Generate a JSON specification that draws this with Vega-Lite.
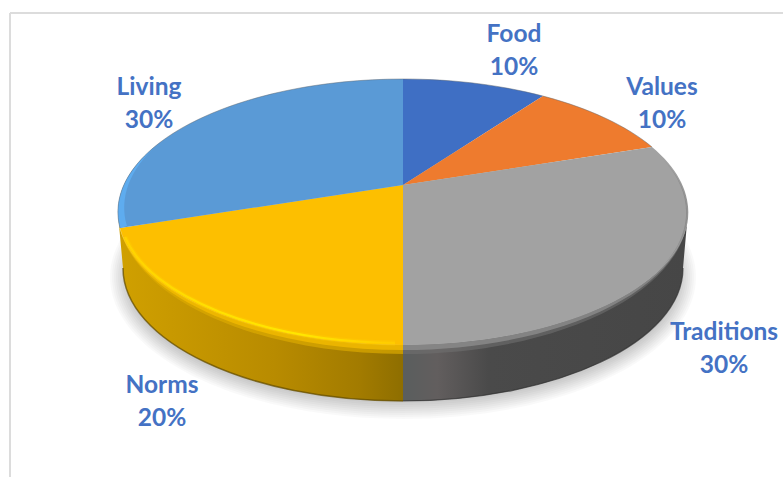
{
  "$schema": "https://vega.github.io/schema/vega-lite/v6.json",
  "width": 783,
  "height": 477,
  "padding": 0,
  "autosize": {"type": "none"},
  "background": "white",
  "view": {"stroke": null},
  "data": {"values": [
    {"label": "Food", "share": 0.1},
    {"label": "Values", "share": 0.1},
    {"label": "Traditions", "share": 0.3},
    {"label": "Norms", "share": 0.2},
    {"label": "Living", "share": 0.3}
  ]},
  "resolve": {"scale": {"shape": "independent", "color": "independent"}},
  "layer": [
    {
      "data": {"values": [{"edge": "top"}]},
      "mark": {"type": "rule", "color": "#dcdcdc", "strokeWidth": 2},
      "encoding": {
        "x": {"datum": -1.3789, "type": "quantitative", "axis": null, "scale": {"domain": [-1.41404, 1.33333], "nice": false, "zero": false}},
        "x2": {"datum": 1.33333},
        "y": {"datum": 1.2932, "type": "quantitative", "axis": null, "scale": {"domain": [-2.19549, 1.39098], "nice": false, "zero": false}}
      }
    },
    {
      "data": {"values": [{"edge": "left"}]},
      "mark": {"type": "rule", "color": "#dcdcdc", "strokeWidth": 2},
      "encoding": {
        "x": {"datum": -1.3789, "type": "quantitative", "axis": null, "scale": {"domain": [-1.41404, 1.33333], "nice": false, "zero": false}},
        "y": {"datum": 1.2932, "type": "quantitative", "axis": null, "scale": {"domain": [-2.19549, 1.39098], "nice": false, "zero": false}},
        "y2": {"datum": -2.19549}
      }
    },
    {
      "data": {"values": [{"ring": "a"}, {"ring": "b"}, {"ring": "c"}, {"ring": "d"}, {"ring": "e"}, {"ring": "f"}, {"ring": "g"}, {"ring": "h"}, {"ring": "i"}]},
      "mark": {"type": "point", "filled": true, "fill": "#000000", "opacity": 0.024, "size": 4, "stroke": null},
      "encoding": {
        "x": {"datum": 0, "type": "quantitative", "axis": null, "scale": {"domain": [-1.41404, 1.33333], "nice": false, "zero": false}},
        "y": {"datum": 0, "type": "quantitative", "axis": null, "scale": {"domain": [-2.19549, 1.39098], "nice": false, "zero": false}},
        "shape": {
          "field": "ring",
          "type": "nominal",
          "legend": null,
          "scale": {
            "domain": ["a", "b", "c", "d", "e", "f", "g", "h", "i"],
            "range": [
              "M-293,92A293,142 0 1 0 293,92A293,142 0 1 0 -293,92Z",
              "M-291,92A291,140 0 1 0 291,92A291,140 0 1 0 -291,92Z",
              "M-289,92A289,138 0 1 0 289,92A289,138 0 1 0 -289,92Z",
              "M-287,92A287,136 0 1 0 287,92A287,136 0 1 0 -287,92Z",
              "M-285,92A285,134 0 1 0 285,92A285,134 0 1 0 -285,92Z",
              "M-283,92A283,132 0 1 0 283,92A283,132 0 1 0 -283,92Z",
              "M-281,92A281,130 0 1 0 281,92A281,130 0 1 0 -281,92Z",
              "M-279,92A279,128 0 1 0 279,92A279,128 0 1 0 -279,92Z",
              "M-277,92A277,126 0 1 0 277,92A277,126 0 1 0 -277,92Z"
            ]
          }
        }
      }
    },
    {
      "encoding": {
        "x": {"datum": 0, "type": "quantitative", "axis": null, "scale": {"domain": [-1.41404, 1.33333], "nice": false, "zero": false}},
        "y": {"datum": 0, "type": "quantitative", "axis": null, "scale": {"domain": [-2.19549, 1.39098], "nice": false, "zero": false}}
      },
      "layer": [
        {
          "transform": [{"filter": "datum.label === 'Norms'"}],
          "mark": {
            "type": "point", "filled": true, "opacity": 1, "size": 4, "stroke": null,
            "shape": "M-284,40L-280,83A280,133 0 0 0 0,216L0,160A285,133 0 0 1 -284,40Z",
            "fill": {"gradient": "linear", "x1": 0, "x2": 1, "y1": 0, "y2": 0, "stops": [
              {"offset": 0, "color": "#d0a000"},
              {"offset": 0.55, "color": "#b88b00"},
              {"offset": 0.85, "color": "#a27b00"},
              {"offset": 1, "color": "#8e6e00"}
            ]}
          }
        },
        {
          "transform": [{"filter": "datum.label === 'Traditions'"}],
          "mark": {
            "type": "point", "filled": true, "opacity": 1, "size": 4, "stroke": null,
            "shape": "M285,27L280,83A280,133 0 0 1 0,216L0,160A285,133 0 0 0 285,27Z",
            "fill": {"gradient": "linear", "x1": 0, "x2": 1, "y1": 0, "y2": 0, "stops": [
              {"offset": 0, "color": "#5a5e5e"},
              {"offset": 0.12, "color": "#625e5e"},
              {"offset": 0.3, "color": "#4a4a4a"},
              {"offset": 1, "color": "#464646"}
            ]}
          }
        },
        {
          "transform": [{"filter": "datum.label === 'Norms'"}],
          "mark": {"type": "point", "filled": false, "opacity": 1, "size": 4, "stroke": "#604a00", "strokeWidth": 1.5, "strokeOpacity": 0.7, "shape": "M-280,83A280,133 0 0 0 0,216"}
        },
        {
          "transform": [{"filter": "datum.label === 'Traditions'"}],
          "mark": {"type": "point", "filled": false, "opacity": 1, "size": 4, "stroke": "#303030", "strokeWidth": 1.2, "strokeOpacity": 0.7, "shape": "M280,83A280,133 0 0 1 0,216"}
        },
        {
          "transform": [{"filter": "datum.label === 'Norms'"}],
          "mark": {"type": "point", "filled": true, "opacity": 0.7, "size": 4, "stroke": null, "fill": "#dcaa00", "shape": "M0,169A285,142 0 0 1 -285,27A285,133 0 0 0 0,160Z"}
        },
        {
          "transform": [{"filter": "datum.label === 'Norms'"}],
          "mark": {"type": "point", "filled": true, "opacity": 0.8, "size": 4, "stroke": null, "fill": "#f2ba00", "shape": "M0,165A285,138 0 0 1 -285,27A285,133 0 0 0 0,160Z"}
        },
        {
          "transform": [{"filter": "datum.label === 'Traditions'"}],
          "mark": {"type": "point", "filled": true, "opacity": 0.6, "size": 4, "stroke": null, "fill": "#707070", "shape": "M285,27A285,142 0 0 1 0,169L0,160A285,133 0 0 0 285,27Z"}
        },
        {
          "transform": [{"filter": "datum.label === 'Traditions'"}],
          "mark": {"type": "point", "filled": true, "opacity": 0.8, "size": 4, "stroke": null, "fill": "#8c8c8c", "shape": "M285,27A285,138 0 0 1 0,165L0,160A285,133 0 0 0 285,27Z"}
        },
        {
          "mark": {"type": "point", "filled": true, "opacity": 1, "size": 4, "stroke": null},
          "encoding": {
            "color": {
              "field": "label",
              "type": "nominal",
              "legend": null,
              "scale": {"domain": ["Food", "Values", "Traditions", "Norms", "Living"], "range": ["#3f6fc4", "#ee7b2e", "#a2a2a2", "#fdbf00", "#5a9ad6"]}
            },
            "shape": {
              "field": "label",
              "type": "nominal",
              "legend": null,
              "scale": {
                "domain": ["Food", "Values", "Traditions", "Norms", "Living"],
                "range": [
                  "M0,0L0,-106A285,133 0 0 1 140,-89Z",
                  "M0,0L140,-89A285,133 0 0 1 249,-38Z",
                  "M0,0L249,-38A285,133 0 0 1 0,160Z",
                  "M0,0L0,160A285,133 0 0 1 -283,43Z",
                  "M0,0L-283,43A285,133 0 0 1 0,-106Z"
                ]
              }
            }
          }
        },
        {
          "transform": [{"filter": "datum.label === 'Traditions'"}],
          "mark": {"type": "point", "filled": true, "opacity": 0.3, "size": 4, "stroke": null, "fill": "#5a5a5a", "shape": "M260,-26A285,133 0 0 1 255,86A275,133 0 0 0 260,-26Z"}
        },
        {
          "transform": [{"filter": "datum.label === 'Traditions'"}],
          "mark": {"type": "point", "filled": true, "opacity": 0.5, "size": 4, "stroke": null, "fill": "#404040", "shape": "M272,-12A285,133 0 0 1 268,72A280,133 0 0 0 272,-12Z"}
        },
        {
          "transform": [{"filter": "datum.label === 'Living'"}],
          "mark": {"type": "point", "filled": true, "opacity": 0.8, "size": 4, "stroke": null, "fill": "#5fb0f5", "shape": "M-283,43A285,133 0 0 1 -245,-41A278,133 0 0 0 -276,41Z"}
        },
        {
          "transform": [{"filter": "datum.label === 'Food'"}],
          "mark": {"type": "point", "filled": false, "opacity": 1, "size": 4, "stroke": "#5f6870", "strokeWidth": 0.8, "strokeOpacity": 0.6, "shape": "M-283,43A285,133 0 0 1 0,-106A285,133 0 0 1 249,-38"}
        },
        {
          "transform": [{"filter": "datum.label === 'Norms'"}],
          "mark": {"type": "point", "filled": false, "opacity": 1, "size": 4, "strokeWidth": 5, "strokeOpacity": 0.35, "shape": "M-8,158A283,131 0 0 1 -278,52", "stroke": "#ffd000"}
        },
        {
          "transform": [{"filter": "datum.label === 'Norms'"}],
          "mark": {"type": "point", "filled": false, "opacity": 1, "size": 4, "strokeWidth": 2.2, "strokeOpacity": 0.9, "shape": "M-8,158A283,131 0 0 1 -278,52",
            "stroke": {"gradient": "linear", "x1": 0, "x2": 1, "y1": 0, "y2": 0, "stops": [
              {"offset": 0, "color": "#ffd400"},
              {"offset": 0.35, "color": "#ffe400"},
              {"offset": 0.65, "color": "#ffea00"},
              {"offset": 1, "color": "#ffcc00"}
            ]}}
        }
      ]
    },
    {
      "transform": [{"filter": "datum.label === 'Food'"}],
      "encoding": {
        "x": {"datum": 0.3895, "type": "quantitative", "axis": null, "scale": {"domain": [-1.41404, 1.33333], "nice": false, "zero": false}},
        "y": {"datum": 1.0113, "type": "quantitative", "axis": null, "scale": {"domain": [-2.19549, 1.39098], "nice": false, "zero": false}}
      },
      "layer": [
        {"mark": {"type": "text", "font": "Lato", "fontWeight": "bold", "fontSize": 24.5, "color": "#4472c4", "dy": -15.5}, "encoding": {"text": {"field": "label"}}},
        {"mark": {"type": "text", "font": "Lato", "fontWeight": "bold", "fontSize": 24.5, "color": "#4472c4", "dy": 17.5}, "encoding": {"text": {"field": "share", "type": "quantitative", "format": ".0%"}}}
      ]
    },
    {
      "transform": [{"filter": "datum.label === 'Values'"}],
      "encoding": {
        "x": {"datum": 0.9088, "type": "quantitative", "axis": null, "scale": {"domain": [-1.41404, 1.33333], "nice": false, "zero": false}},
        "y": {"datum": 0.6128, "type": "quantitative", "axis": null, "scale": {"domain": [-2.19549, 1.39098], "nice": false, "zero": false}}
      },
      "layer": [
        {"mark": {"type": "text", "font": "Lato", "fontWeight": "bold", "fontSize": 24.5, "color": "#4472c4", "dy": -15.5}, "encoding": {"text": {"field": "label"}}},
        {"mark": {"type": "text", "font": "Lato", "fontWeight": "bold", "fontSize": 24.5, "color": "#4472c4", "dy": 17.5}, "encoding": {"text": {"field": "share", "type": "quantitative", "format": ".0%"}}}
      ]
    },
    {
      "transform": [{"filter": "datum.label === 'Traditions'"}],
      "encoding": {
        "x": {"datum": 1.1263, "type": "quantitative", "axis": null, "scale": {"domain": [-1.41404, 1.33333], "nice": false, "zero": false}},
        "y": {"datum": -1.2293, "type": "quantitative", "axis": null, "scale": {"domain": [-2.19549, 1.39098], "nice": false, "zero": false}}
      },
      "layer": [
        {"mark": {"type": "text", "font": "Lato", "fontWeight": "bold", "fontSize": 24.5, "color": "#4472c4", "dy": -15.5}, "encoding": {"text": {"field": "label"}}},
        {"mark": {"type": "text", "font": "Lato", "fontWeight": "bold", "fontSize": 24.5, "color": "#4472c4", "dy": 17.5}, "encoding": {"text": {"field": "share", "type": "quantitative", "format": ".0%"}}}
      ]
    },
    {
      "transform": [{"filter": "datum.label === 'Norms'"}],
      "encoding": {
        "x": {"datum": -0.8456, "type": "quantitative", "axis": null, "scale": {"domain": [-1.41404, 1.33333], "nice": false, "zero": false}},
        "y": {"datum": -1.6278, "type": "quantitative", "axis": null, "scale": {"domain": [-2.19549, 1.39098], "nice": false, "zero": false}}
      },
      "layer": [
        {"mark": {"type": "text", "font": "Lato", "fontWeight": "bold", "fontSize": 24.5, "color": "#4472c4", "dy": -15.5}, "encoding": {"text": {"field": "label"}}},
        {"mark": {"type": "text", "font": "Lato", "fontWeight": "bold", "fontSize": 24.5, "color": "#4472c4", "dy": 17.5}, "encoding": {"text": {"field": "share", "type": "quantitative", "format": ".0%"}}}
      ]
    },
    {
      "transform": [{"filter": "datum.label === 'Living'"}],
      "encoding": {
        "x": {"datum": -0.8912, "type": "quantitative", "axis": null, "scale": {"domain": [-1.41404, 1.33333], "nice": false, "zero": false}},
        "y": {"datum": 0.6128, "type": "quantitative", "axis": null, "scale": {"domain": [-2.19549, 1.39098], "nice": false, "zero": false}}
      },
      "layer": [
        {"mark": {"type": "text", "font": "Lato", "fontWeight": "bold", "fontSize": 24.5, "color": "#4472c4", "dy": -15.5}, "encoding": {"text": {"field": "label"}}},
        {"mark": {"type": "text", "font": "Lato", "fontWeight": "bold", "fontSize": 24.5, "color": "#4472c4", "dy": 17.5}, "encoding": {"text": {"field": "share", "type": "quantitative", "format": ".0%"}}}
      ]
    }
  ]
}
